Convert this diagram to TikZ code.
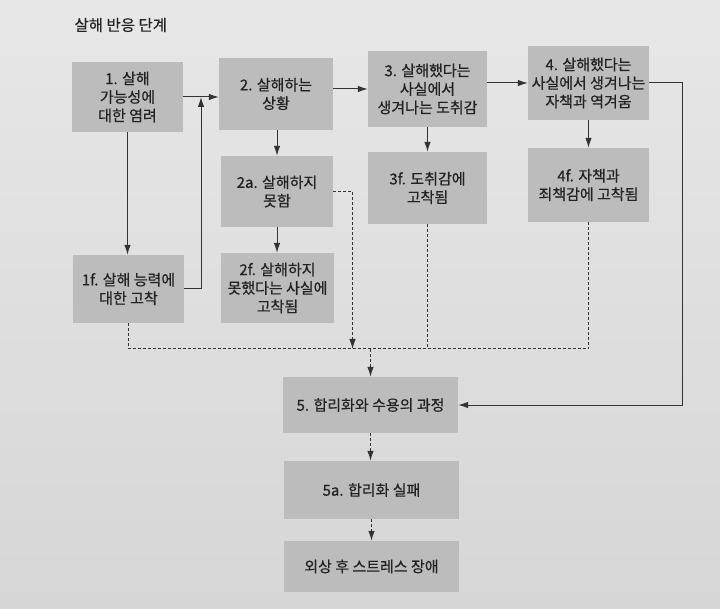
\documentclass[tikz,border=0pt]{standalone}
\usepackage{fontspec}
\setmainfont{Noto Sans CJK KR}
\newfontfamily\medfont{Noto Sans CJK KR}[FakeBold=0.6]
\usetikzlibrary{arrows.meta}
\definecolor{bgtop}{HTML}{E7E7E7}
\definecolor{bgbot}{HTML}{D6D6D6}
\definecolor{boxfill}{HTML}{BCBCBC}
\definecolor{ink}{HTML}{222222}
\definecolor{linec}{HTML}{333333}
\tikzset{
  box/.style={fill=boxfill, draw=none, text=ink, align=center, inner sep=0pt,
    font=\medfont\fontsize{15}{18.5}\selectfont},
  conn/.style={draw=linec, line width=1pt},
  arr/.style={conn, -{Latex[length=10pt,width=6.5pt]}},
  dsh/.style={dash pattern=on 3pt off 2pt},
}
\begin{document}
\begin{tikzpicture}[x=1pt,y=-1pt]
\shade[top color=bgtop, bottom color=bgbot] (0,0) rectangle (720,609);
\useasboundingbox (0,0) rectangle (720,609);
\node[anchor=west, text=ink, font=\medfont\fontsize{15.5}{17}\selectfont] (title) at (71,25) {살해 반응 단계};
\node[box, minimum width=111pt, minimum height=70pt] (b1) at (127.5,97) {1. 살해\\가능성에\\대한 염려};
\node[box, minimum width=114pt, minimum height=72pt] (b2) at (276,94) {2. 살해하는\\상황};
\node[box, minimum width=119pt, minimum height=76pt] (b3) at (427.5,89) {3. 살해했다는\\사실에서\\생겨나는 도취감};
\node[box, minimum width=121pt, minimum height=74pt] (b4) at (588.5,83) {4. 살해했다는\\사실에서 생겨나는\\자책과 역겨움};
\node[box, minimum width=112pt, minimum height=71pt] (a2) at (277,191.5) {2a. 살해하지\\못함};
\node[box, minimum width=113pt, minimum height=70pt] (f2) at (277.5,288) {2f. 살해하지\\못했다는 사실에\\고착됨};
\node[box, minimum width=111pt, minimum height=68pt] (f1) at (128.5,289) {1f. 살해 능력에\\대한 고착};
\node[box, minimum width=119pt, minimum height=72pt] (f3) at (427.5,188) {3f. 도취감에\\고착됨};
\node[box, minimum width=121pt, minimum height=74pt] (f4) at (588.5,185) {4f. 자책과\\죄책감에 고착됨};
\node[box, minimum width=175pt, minimum height=56pt] (b5) at (370.5,405) {5. 합리화와 수용의 과정};
\node[box, minimum width=175pt, minimum height=58pt] (b5a) at (371.5,490) {5a. 합리화 실패};
\node[box, minimum width=175pt, minimum height=51pt] (pt) at (371.5,566.5) {외상 후 스트레스 장애};
\coordinate (hl) at (0,349);
\coordinate (j1) at (201,97);
\coordinate (rc) at (682,405);
\coordinate (j2) at (352.5,349);
% solid connectors
\draw[arr] (b1.east) -- (b2.west |- b1.east);
\draw[arr] (f1.east) -| (j1);
\draw[arr] (b1.south) -- (b1.south |- f1.north);
\draw[arr] (b2.east |- b3.west) -- (b3.west);
\draw[arr] (b3.east |- b4.west) -- (b4.west);
\draw[arr] (b4.east) -| (rc) -- (b5.east);
\draw[arr] (b2.south -| a2.north) -- (a2.north);
\draw[arr] (a2.south) -- (a2.south |- f2.north);
\draw[arr] (b3.south) -- (f3.north);
\draw[arr] (b4.south) -- (f4.north);
% dashed connectors
\draw[conn, dsh] (f1.south) |- (hl -| f4.south) -- (f4.south);
\draw[conn, dsh] (f3.south) -- (f3.south |- hl);
\draw[arr, dsh] (a2.east) -| (j2);
\draw[arr, dsh] (b5.north |- hl) -- (b5.north);
\draw[arr, dsh] (b5.south) -- (b5.south |- b5a.north);
\draw[arr, dsh] (b5a.south) -- (b5a.south |- pt.north);
\end{tikzpicture}
\end{document}
